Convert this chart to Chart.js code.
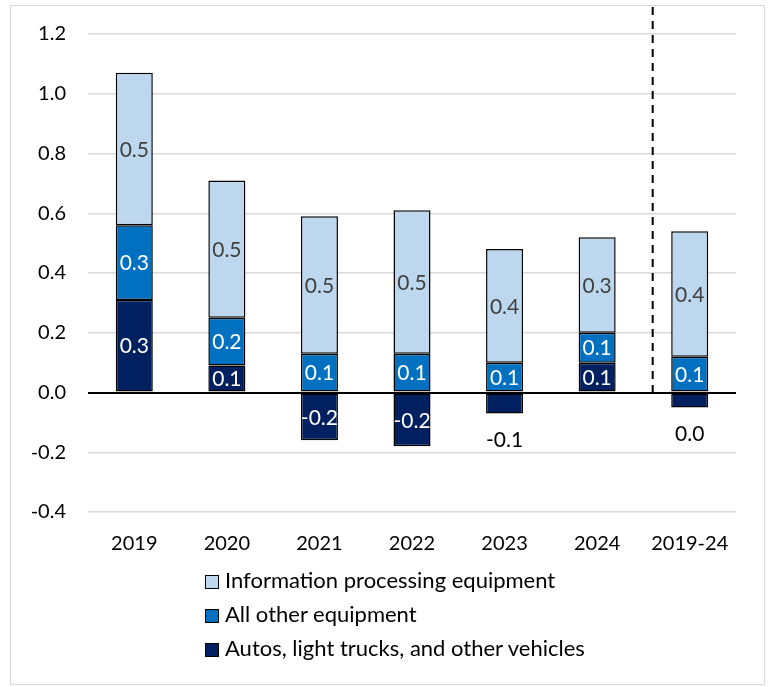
<!DOCTYPE html>
<html>
<head>
<meta charset="utf-8">
<script src="https://cdn.jsdelivr.net/npm/chart.js@4.4.1/dist/chart.umd.min.js"></script>
<style>
  body { margin: 0; background: #fff; }
  #wrap { position: relative; width: 770px; height: 687px; overflow: hidden; }
  #frame { position: absolute; left: 10px; top: 5px; width: 753px; height: 678px; border: 1.5px solid #d9d9d9; }
  #legend { position: absolute; left: 205px; top: 566px; font-family: Lato, sans-serif; font-size: 22px; color: #000; }
  #legend div { height: 34px; line-height: 28px; white-space: nowrap; }
  #legend span.box { display: inline-block; width: 12px; height: 12px; border: 1px solid #000; margin-right: 6px; vertical-align: -1px; }
</style>
</head>
<body>
<div id="wrap">
  <div id="frame"></div>
  <canvas id="chart1" width="770" height="687" style="position:absolute;left:0;top:0"></canvas>
  <div id="legend"></div>
</div>
<script>
// データ
var categories = ["2019", "2020", "2021", "2022", "2023", "2024", "2019-24"];
var autos = [0.31, 0.09, -0.16, -0.18, -0.07, 0.10, -0.05];
var otherEquip = [0.25, 0.16, 0.13, 0.13, 0.10, 0.10, 0.12];
var infoProc = [0.51, 0.46, 0.46, 0.48, 0.38, 0.32, 0.42];
var yTicks = [-0.4, -0.2, 0.0, 0.2, 0.4, 0.6, 0.8, 1.0, 1.2];

var FONT = "Lato, sans-serif";

// 値ラベル
var valueLabels = {
  id: 'valueLabels',
  afterDatasetsDraw: function(chart) {
    var ctx = chart.ctx;
    ctx.save();
    ctx.font = "21px " + FONT;
    ctx.textAlign = "center";
    ctx.textBaseline = "middle";
    chart.data.datasets.forEach(function(ds, i) {
      var meta = chart.getDatasetMeta(i);
      meta.data.forEach(function(bar, j) {
        var v = ds.data[j];
        var txt = (Math.round(v * 10) / 10).toFixed(1);
        var top = Math.min(bar.y, bar.base), bot = Math.max(bar.y, bar.base);
        if (bot - top > 22) {
          ctx.fillStyle = ds.labelColor;
          ctx.fillText(txt, bar.x, (top + bot) / 2 + 1);
        } else {
          ctx.fillStyle = "#000";
          ctx.fillText(txt, bar.x, bot + 27);
        }
      });
    });
    ctx.restore();
  }
};

// 点線
var dashLine = {
  id: 'dashLine',
  afterDatasetsDraw: function(chart) {
    var ctx = chart.ctx;
    var x = chart.scales.x.getPixelForValue(5.6);
    var y0 = chart.scales.y.getPixelForValue(0);
    ctx.save();
    ctx.strokeStyle = "#000";
    ctx.lineWidth = 2;
    ctx.setLineDash([8, 6]);
    ctx.beginPath();
    ctx.moveTo(x, 7);
    ctx.lineTo(x, y0);
    ctx.stroke();
    ctx.restore();
  }
};

var ctx = document.getElementById("chart1").getContext('2d');
var chart = new Chart(ctx, {
  type: 'bar',
  data: {
    labels: categories,
    datasets: [
      { label: "Autos, light trucks, and other vehicles", data: autos, backgroundColor: "#002060", labelColor: "#fff" },
      { label: "All other equipment", data: otherEquip, backgroundColor: "#0070C0", labelColor: "#fff" },
      { label: "Information processing equipment", data: infoProc, backgroundColor: "#BDD7EE", labelColor: "#404040" }
    ].map(function(d) {
      d.borderColor = "#000";
      d.borderWidth = 1.5;
      d.borderSkipped = false;
      d.barPercentage = 0.4;
      d.categoryPercentage = 1.0;
      return d;
    })
  },
  options: {
    responsive: false,
    animation: false,
    layout: { padding: { left: 0, right: 34, top: 34, bottom: 125 } },
    plugins: {
      legend: { display: false },
      title: { display: false },
      tooltip: { enabled: false }
    },
    scales: {
      x: {
        stacked: true,
        grid: { display: false, drawTicks: false },
        border: { display: false },
        ticks: { font: { family: FONT, size: 20 }, color: "#000", padding: 20, maxRotation: 0 },
        afterFit: function(s) { s.height = 50; }
      },
      y: {
        stacked: true,
        min: -0.4,
        max: 1.2,
        afterBuildTicks: function(s) { s.ticks = yTicks.map(function(v) { return { value: v }; }); },
        ticks: {
          font: { family: FONT, size: 20 }, color: "#000", padding: 22,
          callback: function(v) { return v.toFixed(1); }
        },
        grid: {
          drawTicks: false,
          color: function(c) { return c.tick && Math.abs(c.tick.value) < 1e-9 ? "#000" : "#d9d9d9"; },
          lineWidth: function(c) { return c.tick && Math.abs(c.tick.value) < 1e-9 ? 2 : 1.5; }
        },
        border: { display: false },
        afterFit: function(s) { s.width = 88; }
      }
    }
  },
  plugins: [valueLabels, dashLine]
});

// 凡例
var lg = document.getElementById("legend");
chart.data.datasets.slice().reverse().forEach(function(d) {
  var row = document.createElement("div");
  var box = document.createElement("span");
  box.className = "box";
  box.style.background = d.backgroundColor;
  row.appendChild(box);
  row.appendChild(document.createTextNode(d.label));
  lg.appendChild(row);
});
</script>
</body>
</html>
